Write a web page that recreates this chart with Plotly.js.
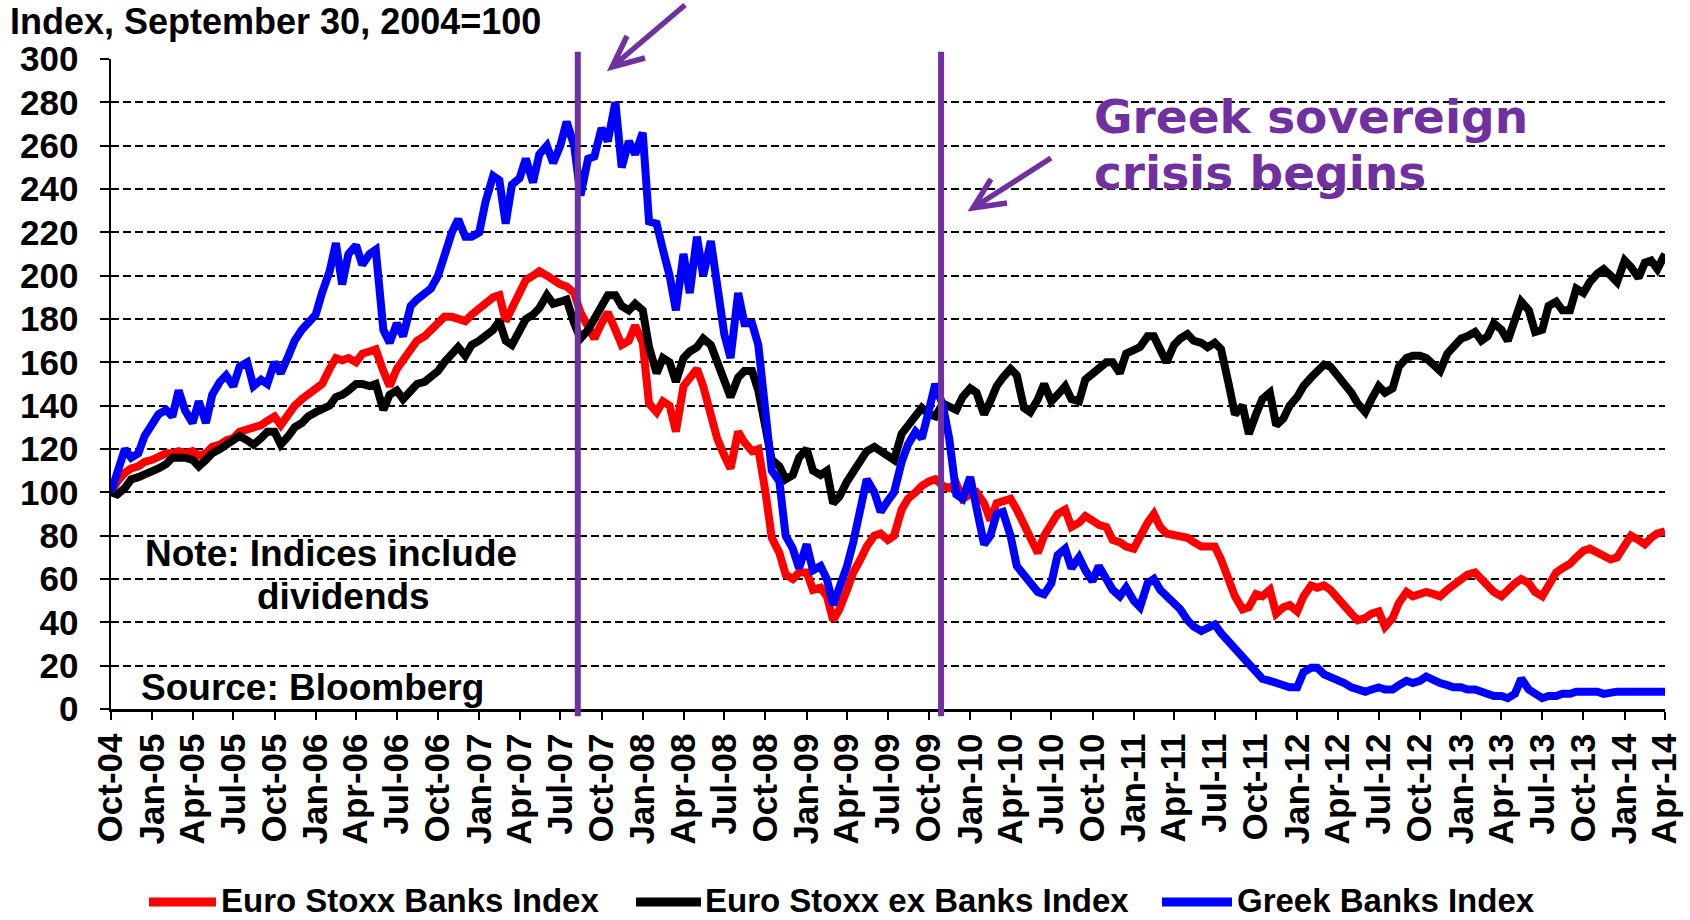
<!DOCTYPE html>
<html>
<head>
<meta charset="utf-8">
<script src="https://cdn.plot.ly/plotly-3.0.1.min.js"></script>
<style>
  html, body { margin: 0; padding: 0; background: #fff; }
  #chart { width: 1690px; height: 920px; }
</style>
</head>
<body>
<div id="chart"></div>
<script>
// Bank share indices, Sep 30 2004 = 100, sampled on the 1st and 15th of each month

const sampleMonths = [
  "2004-10", "2004-11", "2004-12",
  "2005-01", "2005-02", "2005-03", "2005-04", "2005-05", "2005-06", "2005-07", "2005-08", "2005-09", "2005-10", "2005-11", "2005-12",
  "2006-01", "2006-02", "2006-03", "2006-04", "2006-05", "2006-06", "2006-07", "2006-08", "2006-09", "2006-10", "2006-11", "2006-12",
  "2007-01", "2007-02", "2007-03", "2007-04", "2007-05", "2007-06", "2007-07", "2007-08", "2007-09", "2007-10", "2007-11", "2007-12",
  "2008-01", "2008-02", "2008-03", "2008-04", "2008-05", "2008-06", "2008-07", "2008-08", "2008-09", "2008-10", "2008-11", "2008-12",
  "2009-01", "2009-02", "2009-03", "2009-04", "2009-05", "2009-06", "2009-07", "2009-08", "2009-09", "2009-10", "2009-11", "2009-12",
  "2010-01", "2010-02", "2010-03", "2010-04", "2010-05", "2010-06", "2010-07", "2010-08", "2010-09", "2010-10", "2010-11", "2010-12",
  "2011-01", "2011-02", "2011-03", "2011-04", "2011-05", "2011-06", "2011-07", "2011-08", "2011-09", "2011-10", "2011-11", "2011-12",
  "2012-01", "2012-02", "2012-03", "2012-04", "2012-05", "2012-06", "2012-07", "2012-08", "2012-09", "2012-10", "2012-11", "2012-12",
  "2013-01", "2013-02", "2013-03", "2013-04", "2013-05", "2013-06", "2013-07", "2013-08", "2013-09", "2013-10", "2013-11", "2013-12",
  "2014-01", "2014-02", "2014-03", "2014-04"
];
const sampleDays = ["01", "15"];

const euroBanks = [
  100,105, 109,111, 112,114,
  115,116, 118,118, 119,118, 119,117, 118,121, 122,124, 125,128, 129,130, 131,133, 135,131, 136,140, 143,145,
  147,150, 157,162, 161,162, 160,164, 165,166, 156,149, 157,161, 165,170, 172,175, 178,181, 181,180, 179,182,
  185,188, 190,191, 179,185, 192,198, 200,202, 200,198, 196,195, 192,183, 176,171, 178,183, 175,168, 170,177,
  169,141, 137,142, 140,128, 149,153, 157,149, 135,125, 117,111, 128,123, 119,120, 100,79, 72,62, 60,63,
  63,55, 56,52, 41,46, 55,63, 69,75, 80,81, 78,80, 92,97, 100,103, 105,106, 103,102, 104,97,
  99,100, 95,87, 95,96, 97,92, 85,80, 72,80, 86,90, 92,84, 86,89, 87,85, 84,78, 77,75,
  74,80, 86,90, 84,81, 80,79, 79,77, 75,75, 75,69, 60,52, 46,47, 53,52, 55,44, 47,48,
  45,52, 57,56, 57,55, 51,47, 44,41, 42,44, 45,38, 42,49, 54,52, 53,54, 53,52, 55,57,
  59,62, 63,60, 57,54, 52,55, 58,60, 58,54, 52,57, 63,65, 67,70, 73,74, 72,71, 69,70,
  76,80, 78,76, 79,81, 82
];

const euroExBanks = [
  100,99, 102,106, 107,108,
  110,111, 113,116, 116,116, 115,112, 115,118, 120,122, 124,126, 124,122, 125,128, 128,122, 126,130, 132,135,
  137,138, 140,144, 145,147, 150,150, 149,150, 138,145, 147,143, 147,150, 151,153, 156,160, 164,167, 163,168,
  170,172, 175,179, 170,168, 175,180, 182,185, 191,187, 188,189, 178,171, 175,180, 187,191, 191,186, 184,187,
  184,167, 155,162, 160,151, 162,165, 167,171, 168,160, 151,144, 153,156, 156,147, 130,115, 112,106, 108,116,
  120,110, 108,110, 95,98, 105,110, 115,119, 121,119, 117,115, 127,131, 135,139, 136,135, 141,140, 138,144,
  148,146, 136,142, 149,153, 157,154, 139,137, 143,150, 142,145, 149,143, 142,152, 155,158, 160,160, 155,164,
  166,167, 172,172, 166,160, 168,171, 173,170, 169,167, 169,166, 150,136, 140,127, 136,143, 146,131, 134,140,
  144,149, 153,156, 159,158, 154,150, 146,141, 137,143, 149,146, 148,158, 162,163, 163,162, 159,156, 164,167,
  171,172, 174,170, 172,178, 175,170, 180,188, 184,174, 175,186, 188,184, 184,194, 192,197, 201,203, 200,197,
  207,204, 199,206, 207,203, 210
];

const greekBanks = [
  100,110, 120,116, 118,126,
  132,136, 138,135, 147,138, 132,142, 132,145, 151,154, 149,158, 160,149, 152,150, 160,155, 163,170, 175,178,
  182,192, 202,215, 196,210, 214,205, 210,212, 175,169, 178,172, 186,189, 192,194, 200,210, 220,226, 218,218,
  220,234, 246,244, 224,242, 245,254, 243,256, 260,252, 260,271, 260,237, 254,255, 268,262, 280,250, 262,256,
  266,225, 224,212, 200,184, 210,192, 218,200, 216,196, 173,162, 192,178, 178,168, 140,110, 105,80, 74,65,
  76,64, 66,60, 48,56, 66,77, 92,106, 100,91, 96,100, 114,122, 128,125, 138,150, 140,125, 99,97,
  107,92, 76,80, 90,91, 80,66, 62,58, 54,53, 58,71, 74,65, 70,64, 59,66, 60,55, 52,56,
  50,47, 58,60, 55,52, 49,46, 41,38, 36,37, 39,35, 31,27, 24,20, 16,14, 13,12, 11,10,
  10,17, 19,19, 16,15, 13,12, 10,9, 8,9, 10,9, 9,11, 13,12, 13,15, 13,12, 11,10,
  10,9, 9,8, 7,6, 6,5, 7,14, 9,7, 5,6, 6,7, 7,8, 8,8, 8,7, 8,8,
  8,8, 8,8, 8,8, 8
];

const seriesNames = ["Euro Stoxx Banks Index", "Euro Stoxx ex Banks Index", "Greek Banks Index"];
const seriesColors = ["#FF0000", "#000000", "#0000FF"];

const tickLabels = [
  "Oct-04", "Jan-05", "Apr-05", "Jul-05", "Oct-05", "Jan-06", "Apr-06", "Jul-06", "Oct-06",
  "Jan-07", "Apr-07", "Jul-07", "Oct-07", "Jan-08", "Apr-08", "Jul-08", "Oct-08",
  "Jan-09", "Apr-09", "Jul-09", "Oct-09", "Jan-10", "Apr-10", "Jul-10", "Oct-10",
  "Jan-11", "Apr-11", "Jul-11", "Oct-11", "Jan-12", "Apr-12", "Jul-12", "Oct-12",
  "Jan-13", "Apr-13", "Jul-13", "Oct-13", "Jan-14", "Apr-14"
];

// BNP Paribas freeze / Greek deficit revision
const eventDates = ["2007-08-09", "2009-10-28"];

const purple = "#7030A0";
const fontFamily = "Liberation Sans, Arial, sans-serif";

// sample dates: last month only has its first sample
const dates = [];
sampleMonths.forEach((m, i) => {
  sampleDays.forEach((d) => {
    if (i < sampleMonths.length - 1 || d === "01") dates.push(m + "-" + d);
  });
});

const monthNum = { Jan: "01", Apr: "04", Jul: "07", Oct: "10" };
const tickDates = tickLabels.map((t) => "20" + t.slice(4) + "-" + monthNum[t.slice(0, 3)] + "-01");

// plot area in page pixels, used for placing the decorations
const plotLeft = 111, plotWidth = 1554, plotBottom = 709, plotHeight = 650;
function px(x) { return (x - plotLeft) / plotWidth; }
function py(y) { return (plotBottom - y) / plotHeight; }

const traces = [euroBanks, euroExBanks, greekBanks].map((vals, i) => ({
  x: dates,
  y: vals,
  type: "scatter",
  mode: "lines",
  name: seriesNames[i],
  line: { color: seriesColors[i], width: 8 },
  showlegend: false,
  hoverinfo: "x+y+name",
}));

const shapes = [];
eventDates.forEach((d) => {
  shapes.push({
    type: "line", xref: "x", yref: "paper",
    x0: d, x1: d, y0: -0.011, y1: 1.011,
    line: { color: purple, width: 6 },
    layer: "above",
  });
});

// arrows pointing at the event lines
const arrows = [
  { head: [612, 67], tail: [685, 5], wings: [[627, 36], [645, 58]] },
  { head: [973, 208], tail: [1051, 158], wings: [[991, 179], [1007, 203]] },
];
arrows.forEach((a) => {
  const [hx, hy] = a.head, [tx, ty] = a.tail, [w1, w2] = a.wings;
  shapes.push({
    type: "path", xref: "paper", yref: "paper",
    path: `M ${px(w1[0])} ${py(w1[1])} L ${px(hx)} ${py(hy)} L ${px(w2[0])} ${py(w2[1])} M ${px(hx)} ${py(hy)} L ${px(tx)} ${py(ty)}`,
    line: { color: purple, width: 5.5 },
  });
});

// hand-made legend below the axis
const legendItems = [
  { line: [149, 216], text: 219 },
  { line: [636, 701], text: 703 },
  { line: [1162, 1232], text: 1235 },
];
const legendY = 900;
const annotations = [];
legendItems.forEach((it, i) => {
  shapes.push({
    type: "line", xref: "paper", yref: "paper",
    x0: px(it.line[0]), x1: px(it.line[1]), y0: py(legendY + 2), y1: py(legendY + 2),
    line: { color: seriesColors[i], width: 9 },
  });
  annotations.push({
    xref: "paper", yref: "paper", x: px(it.text), y: py(legendY),
    xanchor: "left", yanchor: "middle", showarrow: false,
    text: seriesNames[i],
    font: { family: fontFamily, size: 33, weight: "bold", color: "#000" },
  });
});

const noteFont = { family: fontFamily, size: 37, weight: "bold", color: "#000" };
annotations.push(
  { xref: "paper", yref: "paper", x: px(331), y: py(553), xanchor: "center", yanchor: "middle",
    showarrow: false, text: "Note: Indices include", font: noteFont },
  { xref: "paper", yref: "paper", x: px(343), y: py(596), xanchor: "center", yanchor: "middle",
    showarrow: false, text: "dividends", font: noteFont },
  { xref: "paper", yref: "paper", x: px(139), y: py(687), xanchor: "left", yanchor: "middle",
    showarrow: false, text: "Source: Bloomberg", font: noteFont }
);

const greekFont = { family: "DejaVu Sans, Verdana, sans-serif", size: 47, weight: "bold", color: purple };
annotations.push(
  { xref: "paper", yref: "paper", x: px(1092), y: py(116), xanchor: "left", yanchor: "middle",
    showarrow: false, text: "Greek sovereign", font: greekFont },
  { xref: "paper", yref: "paper", x: px(1092), y: py(172), xanchor: "left", yanchor: "middle",
    showarrow: false, text: "crisis begins", font: greekFont }
);

const tickFont = { family: fontFamily, size: 35, weight: "bold", color: "#000" };

const layout = {
  width: 1690,
  height: 920,
  margin: { l: 111, r: 25, t: 59, b: 211 },
  paper_bgcolor: "#fff",
  plot_bgcolor: "#fff",
  title: {
    text: "Index, September 30, 2004=100",
    font: { family: fontFamily, size: 36, weight: "bold", color: "#000" },
    xref: "container", yref: "container",
    x: 10 / 1690, xanchor: "left",
    y: 1 - 21 / 920, yanchor: "middle",
  },
  xaxis: {
    type: "date",
    range: ["2004-10-01", "2014-04-01"],
    tickmode: "array",
    tickvals: tickDates,
    ticktext: tickLabels,
    tickangle: -90,
    tickfont: tickFont,
    ticks: "outside",
    ticklen: 8,
    tickwidth: 2,
    tickcolor: "#000",
    showline: true,
    linewidth: 2.5,
    linecolor: "#000",
    showgrid: false,
    zeroline: false,
    fixedrange: true,
  },
  yaxis: {
    range: [0, 300],
    tickmode: "linear",
    tick0: 0,
    dtick: 20,
    tickfont: tickFont,
    ticks: "outside",
    ticklen: 9,
    tickwidth: 2,
    tickcolor: "#000",
    ticklabelstandoff: 14,
    showline: true,
    linewidth: 2.5,
    linecolor: "#000",
    showgrid: true,
    gridcolor: "#000",
    gridwidth: 2,
    griddash: "8px,4px",
    zeroline: false,
    fixedrange: true,
  },
  shapes: shapes,
  annotations: annotations,
  showlegend: false,
};

Plotly.newPlot("chart", traces, layout, { displayModeBar: false, staticPlot: true });
</script>
</body>
</html>
